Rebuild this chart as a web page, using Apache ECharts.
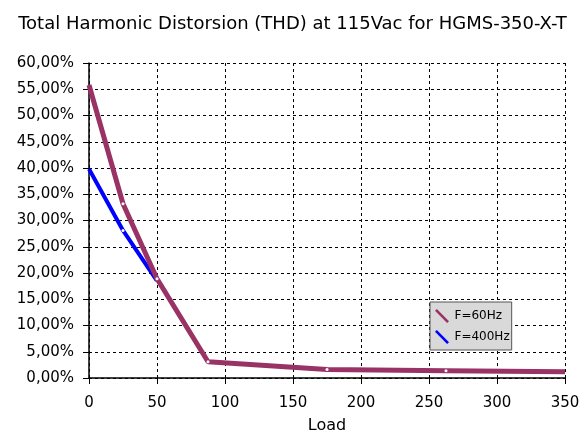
<!DOCTYPE html>
<html>
<head>
<meta charset="utf-8">
<script src="https://cdn.jsdelivr.net/npm/echarts@6/dist/echarts.min.js"></script>
<style>html,body{margin:0;padding:0;background:#fff;overflow:hidden}#c{width:585px;height:439px}</style>
</head>
<body>
<div id="c"></div>
<script>
var titleText = 'Total Harmonic Distorsion (THD) at 115Vac for HGMS-350-X-T';
var loads = [0, 25, 50, 87.5, 175, 262.5, 350];
var thd60 = [55.8, 33.2, 18.9, 3.1, 1.6, 1.4, 1.2];
var thd400 = [39.8, 28.1, 18.5, 3.0, 1.5, 1.3, 1.1];
var seriesNames = ['F=60Hz', 'F=400Hz'];
var seriesColors = ['#993366', '#0000ff'];

var FONT = 'DejaVu Sans';
function pts(xs, ys, from, to) {
  var out = [];
  for (var i = from; i <= to; i++) {
    var interior = i > 0 && i < xs.length - 1;
    out.push({value: [xs[i], ys[i]], symbol: interior ? 'circle' : 'none'});
  }
  return out;
}
var chart = echarts.init(document.getElementById('c'));
var legendIcon = 'path://M2,0 L15,13 L13,15 L0,2 Z';
var gap = {color: '#fff', borderWidth: 0};
chart.setOption({
  animation: false,
  title: {
    text: titleText, left: 'center', top: 10,
    textStyle: {fontFamily: FONT, fontSize: 18, fontWeight: 'normal', color: '#000'}
  },
  legend: {
    data: seriesNames.map(function (n, i) {
      return {name: n, icon: legendIcon, itemStyle: {color: seriesColors[i], borderWidth: 0}};
    }),
    orient: 'vertical', left: 430, top: 302,
    itemWidth: 15, itemHeight: 14, itemGap: 7,
    padding: [7, 2, 6, 5],
    backgroundColor: '#d9d9d9', borderColor: '#555', borderWidth: 1,
    textStyle: {fontFamily: FONT, fontSize: 12, color: '#000'}
  },
  grid: {left: 89, right: 20, top: 63, bottom: 57},
  xAxis: {
    type: 'value', min: 0, max: 350, interval: 50,
    name: 'Load', nameLocation: 'middle', nameGap: 40,
    nameTextStyle: {fontFamily: FONT, fontSize: 16, color: '#000'},
    axisLine: {show: true, onZero: false, lineStyle: {color: '#000', width: 1.5}},
    axisTick: {show: true, length: 6, lineStyle: {color: '#000'}},
    axisLabel: {fontFamily: FONT, fontSize: 15, color: '#000', margin: 18},
    splitLine: {show: true, lineStyle: {color: '#000', type: [3, 3], width: 1}}
  },
  yAxis: {
    type: 'value', min: 0, max: 60, interval: 5,
    axisLine: {show: true, lineStyle: {color: '#000', width: 1.5}},
    axisTick: {show: true, length: 6, lineStyle: {color: '#000'}},
    axisLabel: {
      fontFamily: FONT, fontSize: 15, color: '#000', margin: 15,
      formatter: function (v) { return v.toFixed(2).replace('.', ',') + '%'; }
    },
    splitLine: {show: true, lineStyle: {color: '#000', type: [3, 3], width: 1}}
  },
  series: [
    {
      name: seriesNames[1], type: 'line', z: 2,
      data: pts(loads, thd400, 2, loads.length - 1),
      symbol: 'none', showSymbol: false,
      lineStyle: {color: seriesColors[1], width: 1}, itemStyle: gap
    },
    {
      name: seriesNames[1], type: 'line', z: 3,
      data: pts(loads, thd400, 0, 2),
      symbolSize: 3, itemStyle: gap,
      lineStyle: {color: seriesColors[1], width: 4}
    },
    {
      name: seriesNames[0], type: 'line', z: 4,
      data: pts(loads, thd60, 0, loads.length - 1),
      symbolSize: 3, itemStyle: gap,
      lineStyle: {color: seriesColors[0], width: 5}
    }
  ]
});
</script>
</body>
</html>
